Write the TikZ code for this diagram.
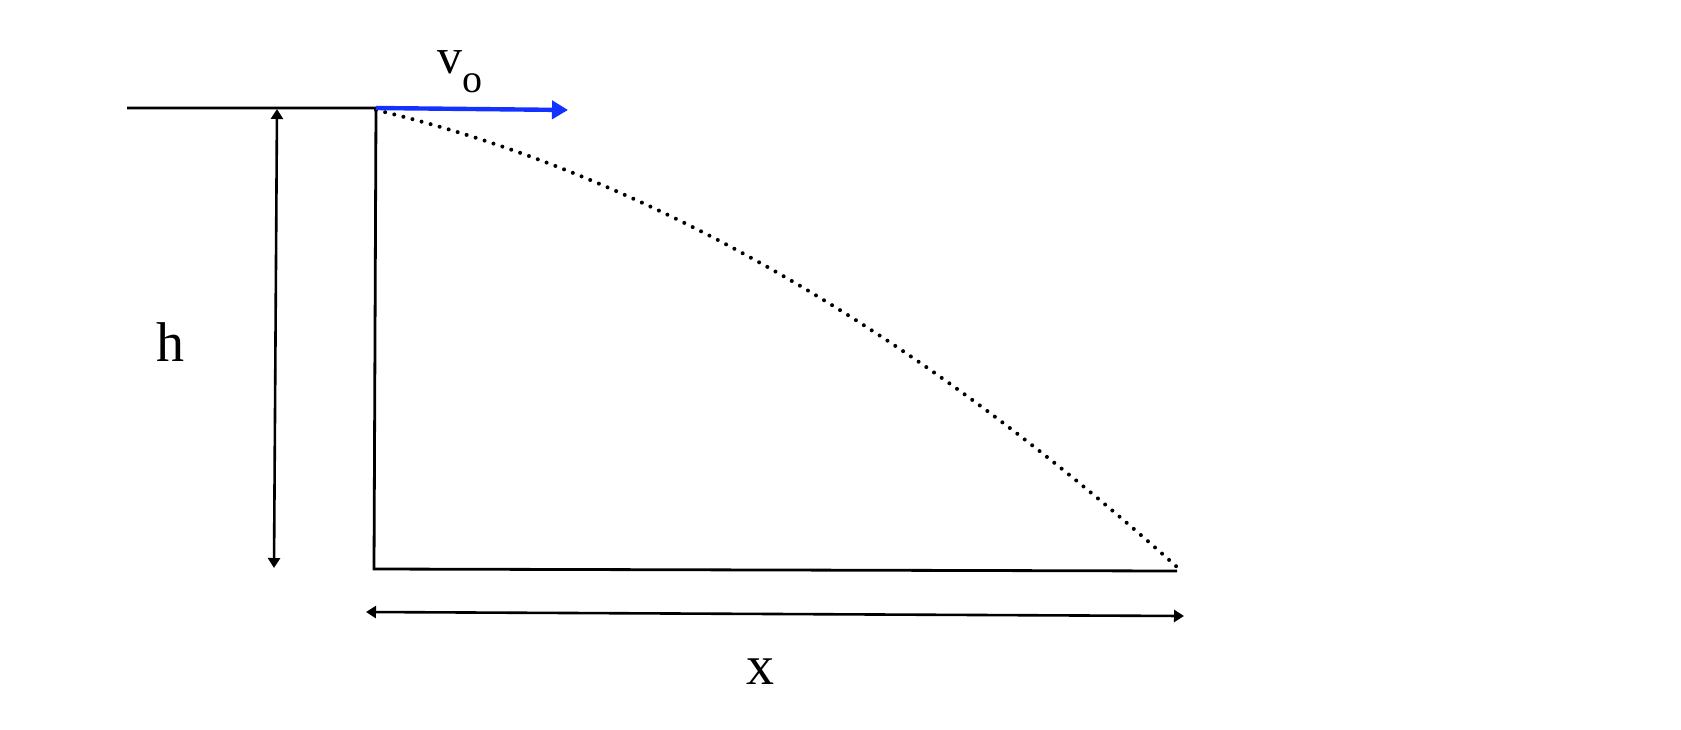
\documentclass[tikz,border=0pt]{standalone}
\usepackage{fontspec}
\setmainfont{Liberation Serif}
\usetikzlibrary{arrows.meta}
\begin{document}
\begin{tikzpicture}[x=0.5pt,y=-0.5pt,
  wall/.style={line width=1.4pt,line join=miter},
  dimarrow/.style={line width=1.3pt,{Triangle[length=5pt,width=6pt]}-{Triangle[length=5pt,width=6pt]}},
  velarrow/.style={line width=2.2pt,draw={rgb,255:red,20;green,50;blue,255},-{Triangle[length=8pt,width=9pt]}},
  path/.style={line width=2pt,line cap=round,dash pattern=on 0pt off 4.7pt},
  lbl/.style={inner sep=0pt,font=\fontsize{28}{30}\selectfont}]
\useasboundingbox (0,0) rectangle (1681,729);
\coordinate (tl) at (127,108);
\coordinate (edge) at (376,108);
\coordinate (foot) at (374,569);
\coordinate (land) at (1177,571);
\coordinate (hit) at (1177,567);
\coordinate (vtip) at (568,110);
\coordinate (htop) at (277,109);
\coordinate (hbot) at (274,568);
\coordinate (xl) at (366,612);
\coordinate (xr) at (1184,616);
\draw[wall] (tl) -- (edge) -- (foot) -- (land);
\draw[path] (376,110) .. controls (643,173) and (910,327) .. (hit);
\draw[velarrow] (edge) -- (vtip);
\draw[dimarrow] (htop) -- (hbot);
\draw[dimarrow] (xl) -- (xr);
\node[lbl,anchor=base] (h) at (170,361) {h};
\node[lbl,anchor=base] (x) at (760,684) {x};
\node[inner sep=0pt,anchor=base west,font=\fontsize{25}{27}\selectfont] (v) at (437,73) {v\raisebox{-9.5pt}{\fontsize{20}{20}\selectfont o}};
\end{tikzpicture}
\end{document}
